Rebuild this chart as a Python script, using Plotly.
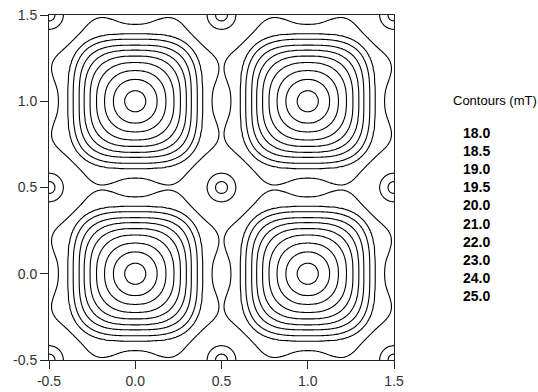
import numpy as np
import plotly.graph_objects as go

# ---- data ----
levels = [18.0, 18.5, 19.0, 19.5, 20.0, 21.0, 22.0, 23.0, 24.0, 25.0]   # contour levels (mT)
legend_title = "Contours (mT)"
tick_values = [-0.5, 0.0, 0.5, 1.0, 1.5]

# angles (deg from the x axis, folded to 0..45) at which ring radii were read
angles_deg = [0.0, 11.25, 22.5, 33.75, 45.0]
# radius (axis units) of each contour ring around a main peak (peaks at integer x, y)
r_18_0 = [0.445, 0.468, 0.525, 0.518, 0.505]
r_18_5 = [0.390, 0.397, 0.415, 0.437, 0.447]
r_19_0 = [0.360, 0.3665, 0.3834, 0.4032, 0.4127]
r_19_5 = [0.325, 0.3309, 0.3461, 0.364, 0.3725]
r_20_0 = [0.295, 0.300, 0.3121, 0.3252, 0.3311]
r_21_0 = [0.262, 0.2661, 0.2755, 0.2851, 0.2893]
r_22_0 = [0.225, 0.2277, 0.2333, 0.2387, 0.2408]
r_23_0 = [0.178, 0.1794, 0.1825, 0.1851, 0.1862]
r_24_0 = [0.127, 0.1275, 0.1282, 0.1289, 0.1291]
r_25_0 = [0.062, 0.062, 0.062, 0.062, 0.062]
peak_value = 25.4          # field at the main peaks (mT)

# small secondary maxima at half-integer x, y
bump_dist = [0.0, 0.035, 0.083, 0.30]
bump_value = [18.75, 18.5, 18.0, 16.0]

# ---- build the field on a grid ----
ring_radii = [r_18_0, r_18_5, r_19_0, r_19_5, r_20_0,
              r_21_0, r_22_0, r_23_0, r_24_0, r_25_0]

x = np.linspace(-0.5, 1.5, 251)
y = np.linspace(-0.5, 1.5, 251)
X, Y = np.meshgrid(x, y)
fx = np.abs(X - np.round(X))
fy = np.abs(Y - np.round(Y))
r = np.hypot(fx, fy)
th = np.degrees(np.arctan2(fy, fx))
th = np.minimum(th, 90.0 - th)

nk = len(angles_deg)
A = np.array([[np.cos(np.radians(4 * k * a)) for k in range(nk)] for a in angles_deg])
basis = np.stack([np.cos(np.radians(4 * k * th)) for k in range(nk)])
R = []
for rr in ring_radii:
    coef = np.linalg.solve(A, np.array(rr))
    R.append(np.tensordot(coef, basis, axes=1))

z = np.full(X.shape, np.nan)
z = np.where(r <= R[-1], peak_value + (levels[-1] - peak_value) * r / R[-1], z)
for i in range(len(levels) - 1, 0, -1):
    mask = (r > R[i]) & (r <= R[i - 1])
    t = (r - R[i]) / (R[i - 1] - R[i])
    z = np.where(mask, levels[i] + t * (levels[i - 1] - levels[i]), z)
z = np.where(r > R[0], levels[0] - 6.0 * (r - R[0]), z)

bx = np.abs(X - np.floor(X) - 0.5)
by = np.abs(Y - np.floor(Y) - 0.5)
zb = np.interp(np.hypot(bx, by), bump_dist, bump_value)
z = np.round(np.maximum(z, zb), 4)

# ---- figure ----
fine = levels[:5]
coarse = levels[5:]
fig = go.Figure()
for grp in (fine, coarse):
    fig.add_trace(go.Contour(
        x=x, y=y, z=z,
        autocontour=False,
        contours=dict(start=grp[0], end=grp[-1], size=grp[1] - grp[0],
                      coloring="lines", showlabels=False),
        colorscale=[[0, "black"], [1, "black"]],
        showscale=False,
        line=dict(width=1.1, smoothing=1),
        hoverinfo="skip",
    ))

font_family = "Liberation Sans, Arial, sans-serif"
axis_common = dict(
    range=[-0.5, 1.5],
    tickvals=tick_values,
    ticktext=["%.1f" % v for v in tick_values],
    ticks="outside", ticklen=8, tickwidth=1, tickcolor="#222",
    showline=True, linecolor="#222", linewidth=1, mirror=True,
    showgrid=False, zeroline=False, automargin=False,
    tickfont=dict(family=font_family, size=14, color="#333"),
)
fig.update_layout(
    width=538, height=392,
    margin=dict(l=49, r=144, t=15, b=32, autoexpand=False),
    paper_bgcolor="white", plot_bgcolor="white",
    xaxis=dict(**axis_common),
    yaxis=dict(**axis_common),
    showlegend=False,
)

# legend-like text block on the right
plot_w = 345.0
def px_to_paper_x(px):
    return (px - 49) / plot_w
def px_to_paper_y(py):
    return (360 - py) / plot_w

fig.add_annotation(text=legend_title, xref="paper", yref="paper",
                   x=px_to_paper_x(495), y=px_to_paper_y(100),
                   xanchor="center", yanchor="middle", showarrow=False,
                   font=dict(family=font_family, size=13, color="black"))
for i, lv in enumerate(levels):
    fig.add_annotation(text="<b>%.1f</b>" % lv, xref="paper", yref="paper",
                       x=px_to_paper_x(476), y=px_to_paper_y(133 + 18.1 * i),
                       xanchor="center", yanchor="middle", showarrow=False,
                       font=dict(family=font_family, size=14, color="black"))

fig.write_html("out.html", config={"displayModeBar": False},
               post_script="document.body.style.margin='0';document.body.style.overflow='hidden';")
